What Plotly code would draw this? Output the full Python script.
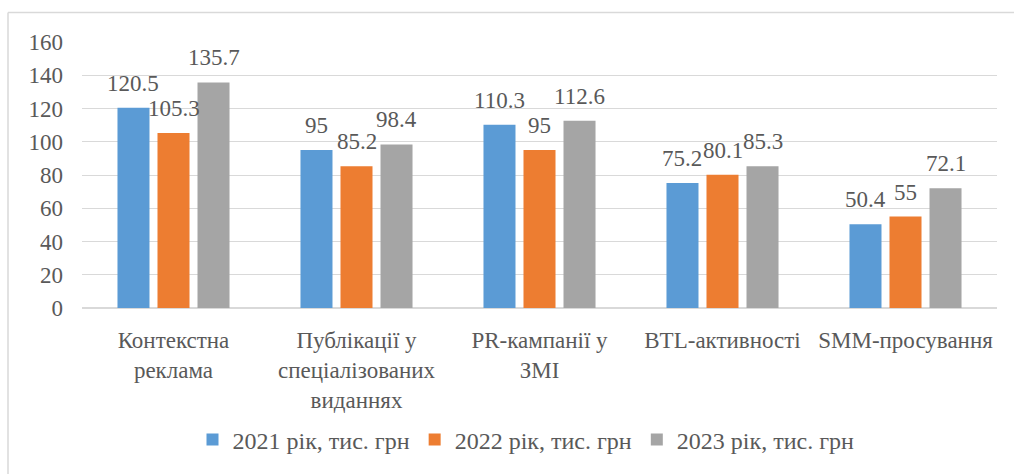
import plotly.graph_objects as go

categories = [
    "Контекстна<br>реклама",
    "Публікації у<br>спеціалізованих<br>виданнях",
    "PR-кампанії у<br>ЗМІ",
    "BTL-активності",
    "SMM-просування",
]
series_names = ["2021 рік, тис. грн", "2022 рік, тис. грн", "2023 рік, тис. грн"]
values_2021 = [120.5, 95, 110.3, 75.2, 50.4]
values_2022 = [105.3, 85.2, 95, 80.1, 55]
values_2023 = [135.7, 98.4, 112.6, 85.3, 72.1]
colors = ["#5B9BD5", "#ED7D31", "#A5A5A5"]
y_ticks = [0, 20, 40, 60, 80, 100, 120, 140, 160]

W, H = 1014, 474
ML, MR, MT, MB = 82, 17, 42, 166
FONT = "Liberation Serif"
FS = 23
text_color = "#595959"
grid_color = "#D9D9D9"

pw = W - ML - MR
ph = H - MT - MB
n_cat = len(categories)
bargap, bargroupgap = 0.344, 0.2
slot_px = (1 - bargap) * pw / n_cat / 3


def px_x(p):
    return (p - ML) / pw


def px_y(p):
    return (H - MB - p) / ph


fig = go.Figure()
annotations = []
all_series = [values_2021, values_2022, values_2023]
for k, (name, vals, col) in enumerate(zip(series_names, all_series, colors)):
    fig.add_trace(go.Bar(
        x=categories, y=vals, name=name, marker_color=col, marker_line_width=0,
    ))
    # value labels centred over each bar of this series
    for cat, v in zip(categories, vals):
        annotations.append(dict(
            x=cat, y=v, xref="x", yref="y", text=f"{v:g}", showarrow=False,
            xanchor="center", yanchor="bottom", xshift=(k - 1) * slot_px, yshift=10,
            font=dict(family=FONT, size=FS, color=text_color),
        ))

fig.update_layout(
    width=W, height=H,
    margin=dict(l=ML, r=MR, t=MT, b=MB),
    paper_bgcolor="white", plot_bgcolor="white",
    barmode="group", bargap=bargap, bargroupgap=bargroupgap,
    font=dict(family=FONT, size=FS, color=text_color),
    showlegend=True,
    legend=dict(orientation="h", x=px_x(526), xanchor="center", y=px_y(440), yanchor="middle",
                font=dict(family=FONT, size=24, color=text_color), traceorder="normal",
                itemwidth=30),
    annotations=annotations,
    shapes=[
        dict(type="line", xref="paper", yref="paper", x0=px_x(8), x1=px_x(1030), y0=px_y(12.5), y1=px_y(12.5),
             line=dict(color=grid_color, width=1.5)),
        dict(type="line", xref="paper", yref="paper", x0=px_x(8), x1=px_x(8), y0=px_y(12.5), y1=px_y(490),
             line=dict(color=grid_color, width=1.5)),
    ],
)
fig.update_xaxes(showgrid=False, showline=False, ticks="", ticklabelstandoff=16,
                 tickfont=dict(family=FONT, size=FS, color=text_color))
fig.update_yaxes(range=[0, 160], tickvals=y_ticks, showgrid=True, gridcolor=grid_color, gridwidth=1,
                 zeroline=True, zerolinecolor=grid_color, zerolinewidth=1.5, showline=False,
                 ticks="", ticklabelstandoff=18, tickfont=dict(family=FONT, size=FS, color=text_color))

fig.write_html("out.html")
